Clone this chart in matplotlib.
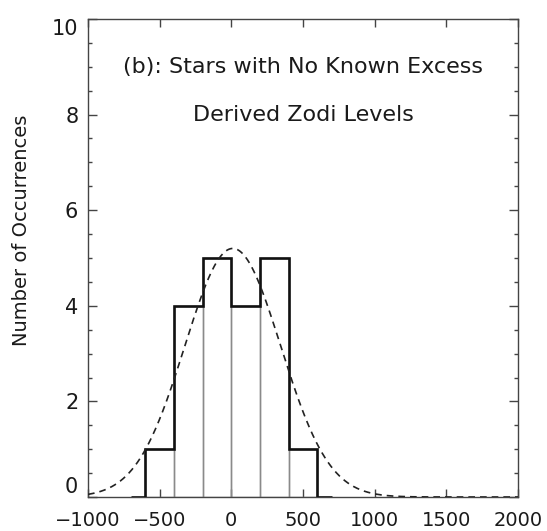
import numpy as np
import matplotlib
matplotlib.use("Agg")
import matplotlib.pyplot as plt

# ---- data ----
bin_edges = [-600, -400, -200, 0, 200, 400, 600]
counts = [1, 4, 5, 4, 5, 1]
# Gaussian fit parameters (dashed curve)
fit_amp = 5.2
fit_mean = 10.0
fit_sigma = 335.0
x_ticks = [-1000, -500, 0, 500, 1000, 1500, 2000]
y_ticks = [0, 2, 4, 6, 8, 10]
title_lines = ["(b): Stars with No Known Excess", "Derived Zodi Levels"]
ylabel = "Number of Occurrences"

plt.rcParams['font.family'] = ['DejaVu Sans']
txt_color = '#1a1a1a'
axis_color = '#444444'

fig = plt.figure(figsize=(5.47, 5.31), dpi=100)
ax = fig.add_axes([88/547, 1-497/531, (518-88)/547, (497-19)/531])

edges = np.array(bin_edges, dtype=float)
vals = np.array(counts, dtype=float)
widths = np.diff(edges)

# thin inner bar outlines
ax.bar(edges[:-1], vals, width=widths, align='edge', fill=False,
       edgecolor='#8a8a8a', linewidth=1.0, zorder=2)

# thick histogram outline (with half-bin extensions at zero)
half = widths[0] / 2
ext_edges = np.r_[edges[0] - half, edges, edges[-1] + half]
ext_vals = np.r_[0, vals, 0]
ax.stairs(ext_vals, ext_edges, baseline=None, color='#111111',
          linewidth=1.9, zorder=3)

# Gaussian fit curve
xg = np.linspace(-1000, 2000, 600)
yg = fit_amp * np.exp(-(xg - fit_mean) ** 2 / (2 * fit_sigma ** 2))
ax.plot(xg, yg, color='#222222', linewidth=1.2, linestyle=(0, (4, 3)), zorder=4)

ax.set_xlim(-1000, 2000)
ax.set_ylim(0, 10)
ax.set_xticks(x_ticks)
ax.set_xticklabels([str(t).replace('-', '\u2212') for t in x_ticks])
ax.set_yticks(y_ticks)
ax.set_yticks(np.arange(0, 10.01, 0.5), minor=True)
ax.set_yticklabels([str(t) for t in y_ticks])

for s in ax.spines.values():
    s.set_color(axis_color)
    s.set_linewidth(1.0)

ax.tick_params(axis='x', which='major', direction='in', length=6, width=1,
               color=axis_color, top=True, bottom=True, pad=10,
               labelsize=14, labelcolor=txt_color)
ax.tick_params(axis='y', which='major', direction='in', length=6.5, width=1,
               color=axis_color, left=True, right=True, pad=7,
               labelsize=15, labelcolor=txt_color)
ax.tick_params(axis='y', which='minor', direction='in', length=3, width=1,
               color=axis_color, left=True, right=True)
ax.tick_params(axis='x', which='minor', bottom=False, top=False)

ylabs = ax.get_yticklabels()
ylabs[0].set_verticalalignment('bottom')
ylabs[-1].set_verticalalignment('top')

ax.text(500, 9, title_lines[0], ha='center', va='center', fontsize=16,
        color=txt_color)
ax.text(500, 8, title_lines[1], ha='center', va='center', fontsize=16,
        color=txt_color)

fig.text(22/547, 1-230/531, ylabel, rotation=90, ha='center', va='center',
         fontsize=14, color=txt_color)

fig.savefig('out.png', dpi=100)
